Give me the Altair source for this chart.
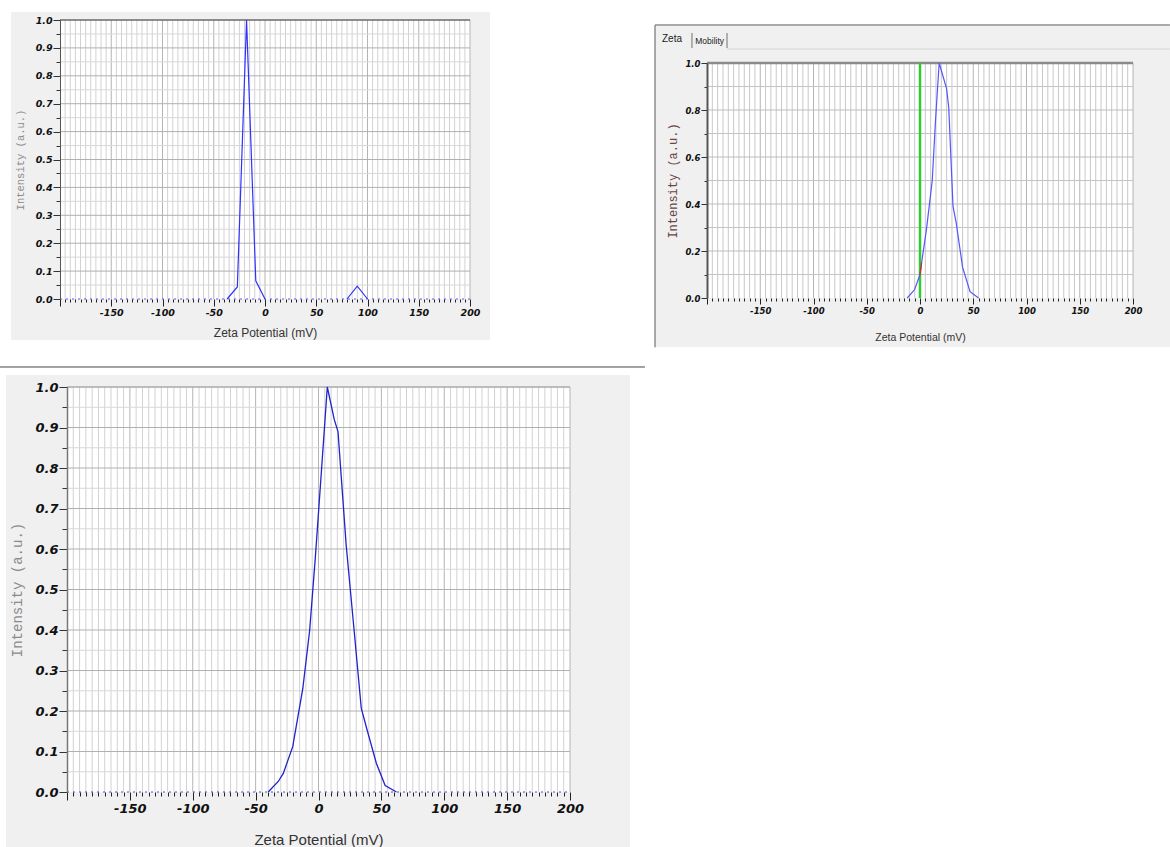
import altair as alt
import pandas as pd

W, H = 1170, 847

# ---------------- values ----------------
# Panel 1 (top-left): two peaks
p1_x = [-37, -27, -18, -9, 0, 80, 90, 100]
p1_y = [0.0, 0.043, 1.0, 0.065, 0.0, 0.0, 0.046, 0.0]
p1_seg = ["a", "a", "a", "a", "a", "b", "b", "b"]

# Panel 2 (top-right)
p2_x = [-12, -5, 0, 1.5, 6, 11.5, 14.5, 18, 25, 27, 31, 34, 40, 47, 55]
p2_y = [0.0, 0.036, 0.10, 0.15, 0.29, 0.50, 0.75, 1.0, 0.89, 0.81, 0.39, 0.32, 0.13, 0.027, 0.0]
p2_red_x = [0, 1.5]
p2_red_y = [0.10, 0.15]
p2_marker_x = [0]          # green reference line

# Panel 3 (bottom)
p3_x = [-40, -32, -28, -20.5, -12.5, -7, -2.5, 2.5, 7, 12.5, 15.5, 22, 28, 34, 38.5, 46, 53, 62]
p3_y = [0.0, 0.026, 0.046, 0.112, 0.255, 0.40, 0.58, 0.80, 1.0, 0.92, 0.89, 0.61, 0.41, 0.207,
        0.155, 0.071, 0.016, 0.0]

x_tick_values = list(range(-200, 205, 5))
x_grid_minor = [v for v in range(-195, 205, 5) if v % 50 != 0]
x_grid_major = [v for v in range(-150, 205, 50)]
y_fine = [round(i * 0.05, 2) for i in range(21)]
y_tenth = [round(i * 0.1, 1) for i in range(11)]

tab_labels = ["Zeta", "Mobility"]
x_title = "Zeta Potential (mV)"
y_title = "Intensity (a.u.)"


def panel(P):
    xs = alt.Scale(domain=[-200, 200], range=P["xr"], nice=False, zero=False)
    ys = alt.Scale(domain=[0, 1], range=P["yr"], nice=False, zero=False)
    ystep = P["ylab_step"]
    ytest = f"abs(datum.value*{ystep} - round(datum.value*{ystep})) < 0.001"
    xa = alt.Axis(
        orient="bottom", offset=P["yr"][0] - H, values=x_tick_values, grid=False,
        domain=False, ticks=True, tickColor="#222", tickWidth=1,
        tickSize={"condition": {"test": "datum.value % 50 === 0", "value": P["xmaj"]},
                  "value": P["xmin"]},
        labelExpr="datum.value % 50 === 0 && datum.value > -200 ? '' + datum.value : ''",
        labelFont="DejaVu Sans", labelFontSize=P["lfs"], labelFontWeight="bold",
        labelFontStyle="italic", labelColor="#111", labelOverlap=False, labelFlush=False,
        labelBound=False, labelPadding=P["xlp"],
        title=x_title, titleFont="Liberation Sans", titleFontSize=P["tfs"],
        titleFontWeight="normal", titleColor=P["tcol"], titleY=P["ty"],
        titleBaseline="alphabetic", zindex=1)
    ya = alt.Axis(
        orient="left", offset=-P["xr"][0], values=P["yvals"], grid=False,
        domain=True, domainColor=P["dcol"], domainWidth=P["dw"], ticks=True,
        tickColor="#333", tickWidth=1,
        tickSize={"condition": {"test": ytest, "value": P["ymaj"]}, "value": P["ymin"]},
        labelExpr=f"{ytest} ? format(datum.value, '.1f') : ''",
        labelFont="DejaVu Sans", labelFontSize=P["lfs"], labelFontWeight="bold",
        labelFontStyle="italic", labelColor="#111", labelOverlap=False, labelFlush=False,
        labelBound=False, labelPadding=P["ylp"],
        title=y_title, titleFont="Liberation Mono", titleFontSize=P["ytfs"],
        titleFontWeight="normal", titleColor=P["ytcol"], titleX=P["ytx"] - P["xr"][0],
        titleBaseline="middle", zindex=1)

    def X(f):
        return alt.X(f"{f}:Q", scale=xs, axis=xa)

    def Y(f):
        return alt.Y(f"{f}:Q", scale=ys, axis=ya)

    layers = []
    # panel background
    bg = pd.DataFrame({"x1": [P["bg"][0]], "x2": [P["bg"][1]], "y1": [P["bg"][2]], "y2": [P["bg"][3]]})
    layers.append(alt.Chart(bg).mark_rect(color="#f0f0f0").encode(
        x=X("x1"), x2="x2", y=Y("y1"), y2="y2"))
    for deco in P.get("decor", []):
        layers.append(deco(X, Y))
    plot = pd.DataFrame({"x1": [-200], "x2": [200], "y1": [0], "y2": [1]})
    layers.append(alt.Chart(plot).mark_rect(color="white").encode(
        x=X("x1"), x2="x2", y=Y("y1"), y2="y2"))
    # grid
    gv1 = pd.DataFrame({"v": x_grid_minor, "lo": 0, "hi": 1})
    gv2 = pd.DataFrame({"v": x_grid_major, "lo": 0, "hi": 1})
    layers.append(alt.Chart(gv1).mark_rule(color=P["gminor"], strokeWidth=1).encode(
        x=X("v"), y=Y("lo"), y2="hi"))
    layers.append(alt.Chart(gv2).mark_rule(color=P["gmajor"], strokeWidth=1).encode(
        x=X("v"), y=Y("lo"), y2="hi"))
    hmin = [v for v in P["yvals"] if 0 < v < 1 and abs(v * ystep - round(v * ystep)) > 0.001]
    hmaj = [v for v in P["yvals"] if 0 < v < 1 and abs(v * ystep - round(v * ystep)) <= 0.001]
    if hmin:
        layers.append(alt.Chart(pd.DataFrame({"h": hmin, "lo": -200, "hi": 200})).mark_rule(
            color=P["hminor"], strokeWidth=1).encode(y=Y("h"), x=X("lo"), x2="hi"))
    layers.append(alt.Chart(pd.DataFrame({"h": hmaj, "lo": -200, "hi": 200})).mark_rule(
        color=P["hmajor"], strokeWidth=1).encode(y=Y("h"), x=X("lo"), x2="hi"))
    # top border
    layers.append(alt.Chart(pd.DataFrame({"h": [1], "lo": -200, "hi": 200})).mark_rule(
        color=P["topcol"], strokeWidth=P["topw"]).encode(y=Y("h"), x=X("lo"), x2="hi"))
    for extra in P.get("extras", []):
        layers.append(extra(X, Y))
    # baseline
    if P.get("baseline"):
        layers.append(alt.Chart(pd.DataFrame({"h": [0], "lo": -200, "hi": 200})).mark_rule(
            color=P["lcol"], strokeWidth=1, strokeDash=[2, 4], opacity=0.8).encode(
            y=Y("h"), x=X("lo"), x2="hi"))
    df = pd.DataFrame({"x": P["x"], "y": P["y"], "s": P["seg"]})
    layers.append(alt.Chart(df).mark_line(color=P["lcol"], strokeWidth=P["lw"]).encode(
        x=X("x"), y=Y("y"), detail="s:N", order="idx:Q").transform_window(idx="row_number()"))
    for extra in P.get("after", []):
        layers.append(extra(X, Y))
    return alt.layer(*layers)


# ---------- panel 2 decorations (window frame and tabs) ----------
def p2_frame(X, Y):
    fr = pd.DataFrame({"x1": [-248.8, -248.8], "x2": [234.7, -248.8],
                       "y1": [1.1617, 1.1617], "y2": [1.1617, -0.21]})
    return alt.Chart(fr).mark_rule(color="#8c8c8c", strokeWidth=1.5).encode(
        x=X("x1"), x2="x2", y=Y("y1"), y2="y2")


def p2_tabs(X, Y):
    ln = pd.DataFrame({"x1": [-214.1, -181.2, -181.2], "x2": [-214.1, -181.2, 234.7],
                       "y1": [1.1277, 1.1277, 1.0596], "y2": [1.0638, 1.0638, 1.0596],
                       "c": ["#707070", "#707070", "#d6d6d6"]})
    return alt.Chart(ln).mark_rule(strokeWidth=1).encode(
        x=X("x1"), x2="x2", y=Y("y1"), y2="y2", color=alt.Color("c:N", scale=None))


def p2_tabtext(X, Y):
    tx = pd.DataFrame({"x": [-232.9, -197.5], "y": [1.101, 1.094], "t": tab_labels,
                       "fs": [10, 8.5]})
    return alt.Chart(tx).mark_text(font="Liberation Sans", color="#222", baseline="middle").encode(
        x=X("x"), y=Y("y"), text="t:N", size=alt.Size("fs:Q", scale=None))


def p2_green(X, Y):
    d = pd.DataFrame({"v": p2_marker_x, "lo": 0, "hi": 1})
    return alt.Chart(d).mark_rule(color="#2ecc2e", strokeWidth=2.5).encode(
        x=X("v"), y=Y("lo"), y2="hi")


def p2_red(X, Y):
    d = pd.DataFrame({"x": p2_red_x, "y": p2_red_y})
    return alt.Chart(d).mark_line(color="#d03020", strokeWidth=1.3).encode(x=X("x"), y=Y("y"))


def p3_sep(X, Y):
    d = pd.DataFrame({"x1": [-253.3], "x2": [259.6], "y1": [1.0494]})
    return alt.Chart(d).mark_rule(color="#444", strokeWidth=1).encode(
        x=X("x1"), x2="x2", y=Y("y1"))


P1 = dict(xr=[60, 470], yr=[299, 20], bg=[-247.8, 219.5, 1.0287, -0.147],
          yvals=y_fine, ylab_step=10, xmaj=7, xmin=3, ymaj=7, ymin=4,
          lfs=9.5, xlp=1, ylp=1, tfs=12, tcol="#333", ty=37,
          ytfs=10.5, ytcol="#8a8a8a", ytx=20, dcol="#555", dw=1,
          gminor="#d2d2d2", gmajor="#b4b4b4", hminor="#d8d8d8", hmajor="#b0b0b0",
          topcol="#6a6a6a", topw=1.5, lcol="#3030ff", lw=1.2, baseline=True,
          x=p1_x, y=p1_y, seg=p1_seg)

P2 = dict(xr=[707, 1133], yr=[298, 63], bg=[-247.9, 234.7, 1.157, -0.2085],
          yvals=y_tenth, ylab_step=5, xmaj=6, xmin=3, ymaj=6, ymin=3,
          lfs=8.5, xlp=2, ylp=1, tfs=10.5, tcol="#333", ty=42,
          ytfs=12, ytcol="#6a4444", ytx=672, dcol="#555", dw=2,
          gminor="#c8c8c8", gmajor="#b4b4b4", hminor="#c4c4c4", hmajor="#bcbcbc",
          topcol="#8a8a8a", topw=2.5, lcol="#5555ff", lw=1.2, baseline=False,
          x=p2_x, y=p2_y, seg=["a"] * len(p2_x),
          decor=[p2_frame, p2_tabs, p2_tabtext], extras=[p2_green], after=[p2_red])

P3 = dict(xr=[67, 570], yr=[792, 387], bg=[-248.5, 247.7, 1.0296, -0.2],
          yvals=y_fine, ylab_step=10, xmaj=8, xmin=4, ymaj=8, ymin=5,
          lfs=13, xlp=2, ylp=1, tfs=15, tcol="#333", ty=52,
          ytfs=14, ytcol="#8a8a8a", ytx=17, dcol="#777", dw=1.5,
          gminor="#d2d2d2", gmajor="#b4b4b4", hminor="#d8d8d8", hmajor="#b0b0b0",
          topcol="#aaaaaa", topw=1.5, lcol="#2222cc", lw=1.3, baseline=True,
          x=p3_x, y=p3_y, seg=["a"] * len(p3_x), decor=[p3_sep])

chart = alt.layer(panel(P1), panel(P2), panel(P3)).resolve_scale(
    x="independent", y="independent"
).properties(
    width=W, height=H, autosize=alt.AutoSizeParams(type="none"), padding=0, background="white"
).configure_view(strokeWidth=0)

chart.save("out.html", embed_options={"renderer": "svg", "actions": False})
